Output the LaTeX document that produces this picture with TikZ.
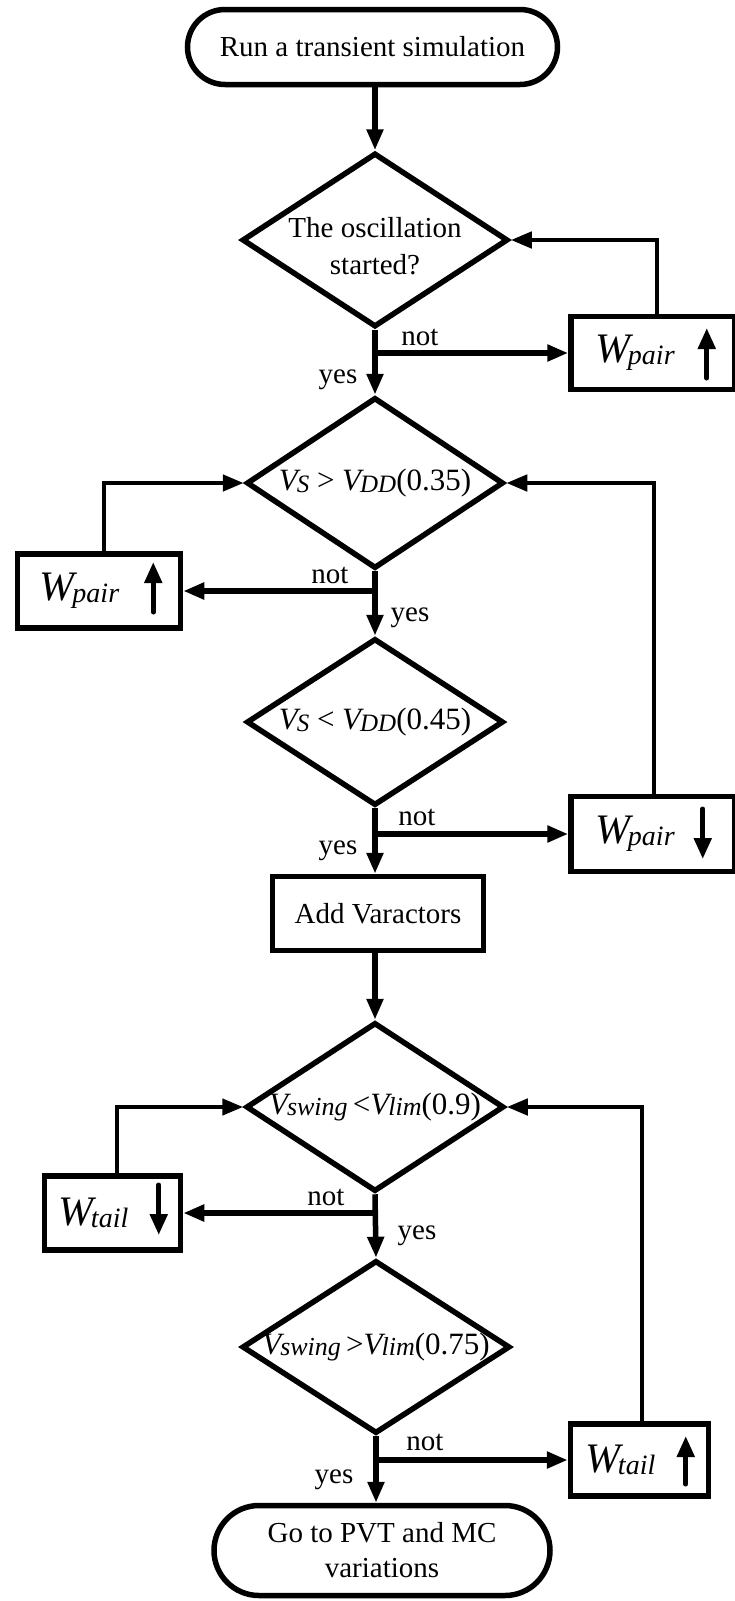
\documentclass[tikz,border=0pt]{standalone}
\usepackage{fontspec}
\setmainfont{Liberation Serif}
\usetikzlibrary{shapes.geometric,shapes.misc,arrows.meta,calc}

\newcommand{\bigfs}{\fontsize{29}{35}\selectfont}
\newcommand{\Wlab}[1]{{\fontsize{42}{44}\selectfont\itshape W}\kern-2pt\raisebox{-2pt}{\fontsize{28}{30}\selectfont\itshape #1}}
\newcommand{\Vcap}[1]{{\fontsize{31}{33}\selectfont\itshape V}\kern-1pt\raisebox{-2pt}{\fontsize{25}{27}\selectfont\itshape #1}}
\newcommand{\Vlow}[1]{{\fontsize{31}{33}\selectfont\itshape V}\kern-1pt\raisebox{-1pt}{\fontsize{26}{28}\selectfont\itshape #1}}
\newcommand{\mfs}{\fontsize{31}{33}\selectfont}

\begin{document}
\begin{tikzpicture}[x=1pt,y=-1pt,
  every node/.style={font=\bigfs, inner sep=0pt},
  termbox/.style={draw, shape=rounded rectangle, line width=5.5pt, align=center},
  procbox/.style={draw, rectangle, line width=5.5pt, align=center},
  decide/.style={draw, shape=diamond, line width=5.5pt, align=center, aspect=1.53},
  flow/.style={line width=5.5pt, -{Triangle[length=21pt,width=16pt]}},
  back/.style={line width=4.5pt, -{Triangle[length=21pt,width=16pt]}},
  glyph/.style={line width=5pt, line cap=round, -{Triangle[length=21pt,width=17pt]}},
  tag/.style={font=\bigfs}
]
\useasboundingbox (0,0) rectangle (735,1601);
\fill[white] (0,0) rectangle (735,1601);

% nodes
\node[termbox, minimum width=370pt, minimum height=75pt] (start) at (372.5,47) {Run a transient simulation};
\node[decide, minimum width=266pt, minimum height=174pt] (d1) at (375,240) {};
\node[align=center, font=\fontsize{29}{37}\selectfont] (d1t) at (375,246) {The oscillation\\started?};
\node[procbox, minimum width=164pt, minimum height=73pt] (r1) at (653,353) {\makebox[116pt][l]{\Wlab{pair}}};
\node[decide, minimum width=257pt, minimum height=171pt] (d2) at (375,483) {\makebox[0pt][c]{\mfs\Vcap{S} > \Vcap{DD}(0.35)}};
\node[procbox, minimum width=163pt, minimum height=74pt] (l1) at (99,591) {\makebox[119pt][l]{\Wlab{pair}}};
\node[decide, minimum width=257pt, minimum height=167pt] (d3) at (375,722) {\makebox[0pt][c]{\mfs\Vcap{S} < \Vcap{DD}(0.45)}};
\node[procbox, minimum width=164pt, minimum height=75pt] (r2) at (653,834) {\makebox[116pt][l]{\Wlab{pair}}};
\node[procbox, minimum width=211pt, minimum height=74pt] (av) at (378,913.5) {Add Varactors};
\node[decide, minimum width=258pt, minimum height=169pt] (d4) at (375,1107) {\makebox[0pt][c]{\mfs\Vlow{swing}\,<\Vlow{lim}(0.9)}};
\node[procbox, minimum width=136pt, minimum height=74pt] (l2) at (112.5,1213) {\makebox[109pt][l]{\Wlab{tail}}};
\node[decide, minimum width=268pt, minimum height=173pt] (d5) at (376,1347) {\makebox[0pt][c]{\mfs\Vlow{swing}\,>\Vlow{lim}(0.75)}};
\node[procbox, minimum width=138pt, minimum height=72pt] (r3) at (639.5,1460) {\makebox[109pt][l]{\Wlab{tail}}};
\node[termbox, minimum width=336pt, minimum height=90pt] (end) at (382,1550.5) {Go to PVT and MC\\variations};

% branch points
\coordinate (b1) at (d1.south |- r1.west);
\coordinate (b2) at (d2.south |- l1.east);
\coordinate (b3) at (d3.south |- r2.west);
\coordinate (b4) at (d4.south |- l2.east);
\coordinate (b5) at (d5.south |- r3.west);

% main flow
\draw[flow] (d1.north |- start.south) -- (d1.north);
\draw[flow] (d1.south) -- (d2.north);
\draw[flow] (d2.south) -- (d3.north);
\draw[flow] (d3.south) -- (d3.south |- av.north);
\draw[flow] (d4.north |- av.south) -- (d4.north);
\draw[flow] (d4.south) -- (d5.north);
\draw[flow] (d5.south) -- (d5.south |- end.north);

% branches
\draw[flow] (b1) -- (r1.west);
\draw[flow] (b2) -- (l1.east);
\draw[flow] (b3) -- (r2.west);
\draw[flow] (b4) -- (l2.east);
\draw[flow] (b5) -- (r3.west);

% feedback
\draw[back] ($(r1.north)+(4,0)$) |- (d1.east);
\draw[back] ($(l1.north)+(5,0)$) |- (d2.west);
\draw[back] ($(r2.north)+(1,0)$) |- (d2.east);
\draw[back] ($(l2.north)+(4.5,0)$) |- (d4.west);
\draw[back] ($(r3.north)+(2.5,0)$) |- (d4.east);

% arrow glyphs in boxes
\draw[glyph] ($(r1.east)+(-31,25)$) -- ($(r1.east)+(-31,-25)$);
\draw[glyph] ($(l1.east)+(-30,21)$) -- ($(l1.east)+(-30,-29)$);
\draw[glyph] ($(r2.east)+(-35,-25)$) -- ($(r2.east)+(-35,25)$);
\draw[glyph] ($(l2.east)+(-24.5,-28)$) -- ($(l2.east)+(-24.5,22)$);
\draw[glyph] ($(r3.east)+(-25.5,24)$) -- ($(r3.east)+(-25.5,-24)$);

% labels
\node[tag] (n1) at (420,337) {not};
\node[tag] (y1) at (338,380) {yes};
\node[tag] (n2) at (330,575) {not};
\node[tag] (y2) at (410,618) {yes};
\node[tag] (n3) at (417,817) {not};
\node[tag] (y3) at (338,851) {yes};
\node[tag] (n4) at (326,1197) {not};
\node[tag] (y4) at (417,1236) {yes};
\node[tag] (n5) at (425,1442) {not};
\node[tag] (y5) at (334,1480) {yes};
\end{tikzpicture}
\end{document}
